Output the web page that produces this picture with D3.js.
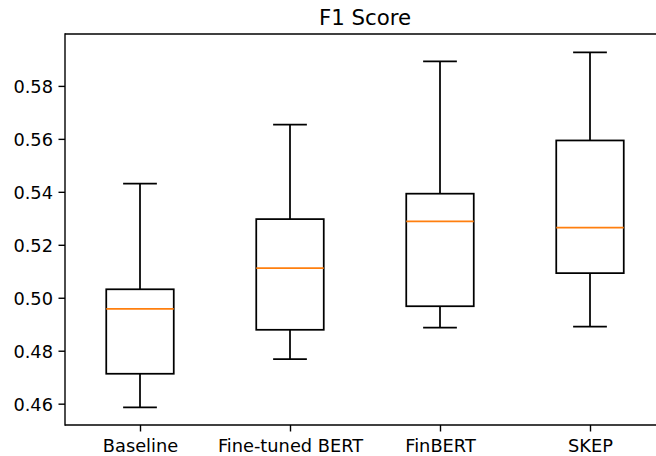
<!DOCTYPE html>
<html>
<head>
<meta charset="utf-8">
<script src="https://cdn.jsdelivr.net/npm/d3@7"></script>
<style>
  html, body { margin: 0; padding: 0; background: #fff; overflow: hidden; }
  svg { display: block; font-family: "DejaVu Sans", sans-serif; overflow: hidden; }
</style>
</head>
<body>
<svg id="chart" width="656" height="456"></svg>
<script>
const categories = ["Baseline", "Fine-tuned BERT", "FinBERT", "SKEP"];
const whiskerLow  = [0.4586, 0.4768, 0.4887, 0.4891];
const q1          = [0.4713, 0.4879, 0.4968, 0.5093];
const median      = [0.4958, 0.5112, 0.5288, 0.5265];
const q3          = [0.5032, 0.5297, 0.5393, 0.5594];
const whiskerHigh = [0.5431, 0.5654, 0.5893, 0.5927];
const yTicks = [0.46, 0.48, 0.50, 0.52, 0.54, 0.56, 0.58];
const title = "F1 Score";

const W = 656;
const margin = {left: 65, right: 665, top: 34, bottom: 425};
const svg = d3.select("#chart");

const x = d3.scaleLinear().domain([0.5, categories.length + 0.5]).range([margin.left, margin.right]);
const y = d3.scaleLinear().domain([0.45195, 0.5996]).range([margin.bottom, margin.top]);

const boxW = 0.45, capW = 0.225;
const data = categories.map((c, i) => ({
  name: c, pos: i + 1, lo: whiskerLow[i], q1: q1[i], med: median[i], q3: q3[i], hi: whiskerHigh[i]
}));

const lw = 1.75;
const g = svg.append("g");

// whiskers
g.selectAll(".whisk").data(data.flatMap(d => [[d.pos, d.lo, d.q1], [d.pos, d.q3, d.hi]]))
  .enter().append("line")
  .attr("x1", d => x(d[0])).attr("x2", d => x(d[0]))
  .attr("y1", d => y(d[1])).attr("y2", d => y(d[2]))
  .attr("stroke", "#000").attr("stroke-width", lw);

// caps
g.selectAll(".cap").data(data.flatMap(d => [[d.pos, d.lo], [d.pos, d.hi]]))
  .enter().append("line")
  .attr("x1", d => x(d[0] - capW / 2)).attr("x2", d => x(d[0] + capW / 2))
  .attr("y1", d => y(d[1])).attr("y2", d => y(d[1]))
  .attr("stroke", "#000").attr("stroke-width", lw);

// boxes
g.selectAll(".box").data(data).enter().append("rect")
  .attr("x", d => x(d.pos - boxW / 2))
  .attr("width", d => x(d.pos + boxW / 2) - x(d.pos - boxW / 2))
  .attr("y", d => y(d.q3))
  .attr("height", d => y(d.q1) - y(d.q3))
  .attr("fill", "none").attr("stroke", "#000").attr("stroke-width", lw);

// medians
g.selectAll(".med").data(data).enter().append("line")
  .attr("x1", d => x(d.pos - boxW / 2)).attr("x2", d => x(d.pos + boxW / 2))
  .attr("y1", d => y(d.med)).attr("y2", d => y(d.med))
  .attr("stroke", "#ff7f0e").attr("stroke-width", lw);

// axes
const yAxis = d3.axisLeft(y).tickValues(yTicks).tickFormat(d3.format(".2f")).tickSize(6.5).tickPadding(5.5);
const ya = svg.append("g").attr("transform", `translate(${margin.left},0)`).call(yAxis);
const xAxis = d3.axisBottom(x).tickValues(data.map(d => d.pos)).tickFormat((d, i) => categories[i]).tickSize(6.5).tickPadding(6);
const xa = svg.append("g").attr("transform", `translate(0,${margin.bottom})`).call(xAxis);

[ya, xa].forEach(a => {
  a.select(".domain").remove();
  a.selectAll(".tick line").attr("stroke", "#000").attr("stroke-width", 1.4);
  a.selectAll(".tick text").attr("fill", "#000").style("font-size", "17.8px").style("font-family", "DejaVu Sans");
});
ya.selectAll(".tick text").attr("dy", "0.36em");
xa.selectAll(".tick text").attr("dy", "0.82em");

// spines (right spine lies beyond the visible canvas)
const spine = svg.append("g").attr("fill", "none").attr("stroke", "#000").attr("stroke-width", 1.4);
spine.append("line").attr("x1", margin.left).attr("x2", margin.left).attr("y1", margin.top - 0.7).attr("y2", margin.bottom + 0.7);
spine.append("line").attr("x1", margin.left).attr("x2", W).attr("y1", margin.top).attr("y2", margin.top);
spine.append("line").attr("x1", margin.left).attr("x2", W).attr("y1", margin.bottom).attr("y2", margin.bottom);

// title
svg.append("text").attr("x", (margin.left + margin.right) / 2).attr("y", 25)
  .attr("text-anchor", "middle").style("font-size", "21.3px").style("font-family", "DejaVu Sans")
  .attr("fill", "#000").text(title);
</script>
</body>
</html>
